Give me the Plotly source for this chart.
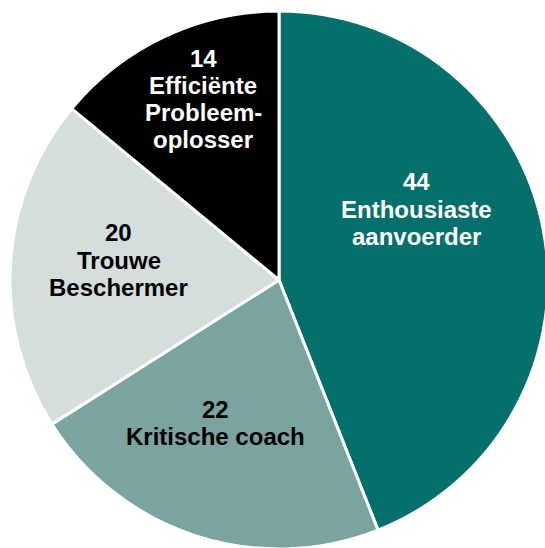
import plotly.graph_objects as go

counts = [44, 22, 20, 14]
labels = ["Enthousiaste<br>aanvoerder", "Kritische coach", "Trouwe<br>Beschermer", "Efficiënte<br>Probleem-<br>oplosser"]
colors = ["#05706b", "#7ba39f", "#d3dedd", "#000000"]
text_colors = ["#ffffff", "#000000", "#000000", "#ffffff"]

# layout: label block centres (viewport pixels) and line spacing
label_centres = [(416, 209), (215, 423), (118.5, 260), (203, 99)]
line_gap = 27.3
W, H = 550, 551  # slightly larger than the window; the page hides overflow

# pie centre (279, 280), radius 269 in pixels
cx, cy, r = 279, 280, 269
dom_x = [(cx - r) / W, (cx + r) / W]
dom_y = [1 - (cy + r) / H, 1 - (cy - r) / H]

fig = go.Figure(go.Pie(
    values=counts,
    labels=labels,
    sort=False,
    direction="clockwise",
    rotation=0,
    marker=dict(colors=colors, line=dict(color="#ffffff", width=3)),
    textinfo="none",
    hoverinfo="label+value",
    domain=dict(x=dom_x, y=dom_y),
))

annotations = []
for val, lab, tc, (bx, by) in zip(counts, labels, text_colors, label_centres):
    lines = [str(val)] + lab.split("<br>")
    n = len(lines)
    for i, line in enumerate(lines):
        ly = by + (i - (n - 1) / 2) * line_gap
        annotations.append(dict(
            text=line,
            x=bx / W, y=1 - ly / H,
            xref="paper", yref="paper",
            xanchor="center", yanchor="middle",
            showarrow=False,
            font=dict(family="Liberation Sans, Arial, sans-serif", size=24, color=tc, weight="bold"),
        ))

fig.update_layout(
    width=W, height=H,
    margin=dict(l=0, r=0, t=0, b=0),
    showlegend=False,
    paper_bgcolor="#ffffff",
    annotations=annotations,
)
fig.write_html(
    "out.html",
    config={"displayModeBar": False},
    post_script="document.body.style.margin='0';document.body.style.overflow='hidden';"
                "document.documentElement.style.overflow='hidden';",
)
